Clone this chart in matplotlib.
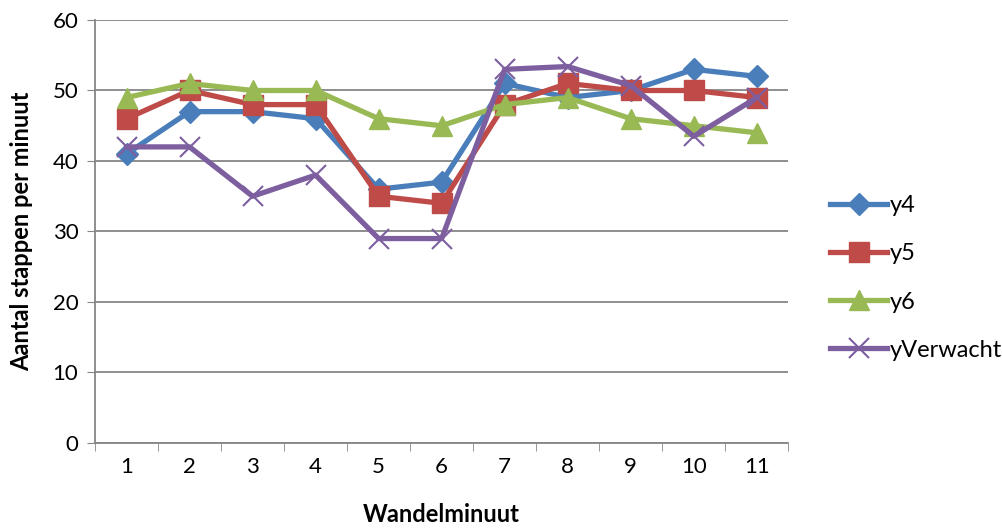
import matplotlib.pyplot as plt

minuten = [1, 2, 3, 4, 5, 6, 7, 8, 9, 10, 11]
y4 = [41, 47, 47, 46, 36, 37, 51, 49, 50, 53, 52]
y5 = [46, 50, 48, 48, 35, 34, 48, 51, 50, 50, 49]
y6 = [49, 51, 50, 50, 46, 45, 48, 49, 46, 45, 44]
y_verwacht = [42, 42, 35, 38, 29, 29, 53, 53.4, 50.7, 43.5, 49]

plt.rcParams['font.family'] = ['Lato', 'DejaVu Sans']

fig = plt.figure(figsize=(10.03, 5.29), dpi=100)
ax = fig.add_axes([0.0947, 0.1626, 0.6913, 0.7996])

ax.plot(minuten, y4, color='#4A7EBB', lw=3.8, marker='D', ms=11,
        label='y4')
ax.plot(minuten, y5, color='#BE4B48', lw=3.8, marker='s', ms=14,
        label='y5')
ax.plot(minuten, y6, color='#98B954', lw=3.8, marker='^', ms=15,
        label='y6')
ax.plot(minuten, y_verwacht, color='#7D5FA0', lw=3.8, marker='x', ms=14,
        mew=1.5, label='yVerwacht')

ax.set_xlim(0.5, 11.5)
ax.set_ylim(0, 60)
ax.set_yticks(range(0, 61, 10))
ax.set_xticks(minuten)
ax.set_xticks([m + 0.5 for m in [0] + minuten], minor=True)
ax.tick_params(axis='x', which='major', length=0, pad=10, labelsize=16)
ax.tick_params(axis='x', which='minor', length=6, color='#868686')
ax.tick_params(axis='y', length=6, color='#868686', pad=6, labelsize=16)

ax.grid(axis='y', color='#868686', lw=1.3)
ax.set_axisbelow(True)
for side in ['top', 'right']:
    ax.spines[side].set_visible(False)
for side in ['left', 'bottom']:
    ax.spines[side].set_color('#868686')
    ax.spines[side].set_linewidth(1.3)

ax.set_xlabel('Wandelminuut', fontsize=17, fontweight='bold', labelpad=19)
ax.set_ylabel('Aantal stappen per minuut', fontsize=17, fontweight='bold',
              labelpad=14)

ax.legend(loc='center left', bbox_to_anchor=(1.03, 0.39), frameon=False,
          fontsize=17, labelspacing=1.15, handlelength=2.4, handletextpad=0.1)

fig.savefig('out.png', dpi=100)
